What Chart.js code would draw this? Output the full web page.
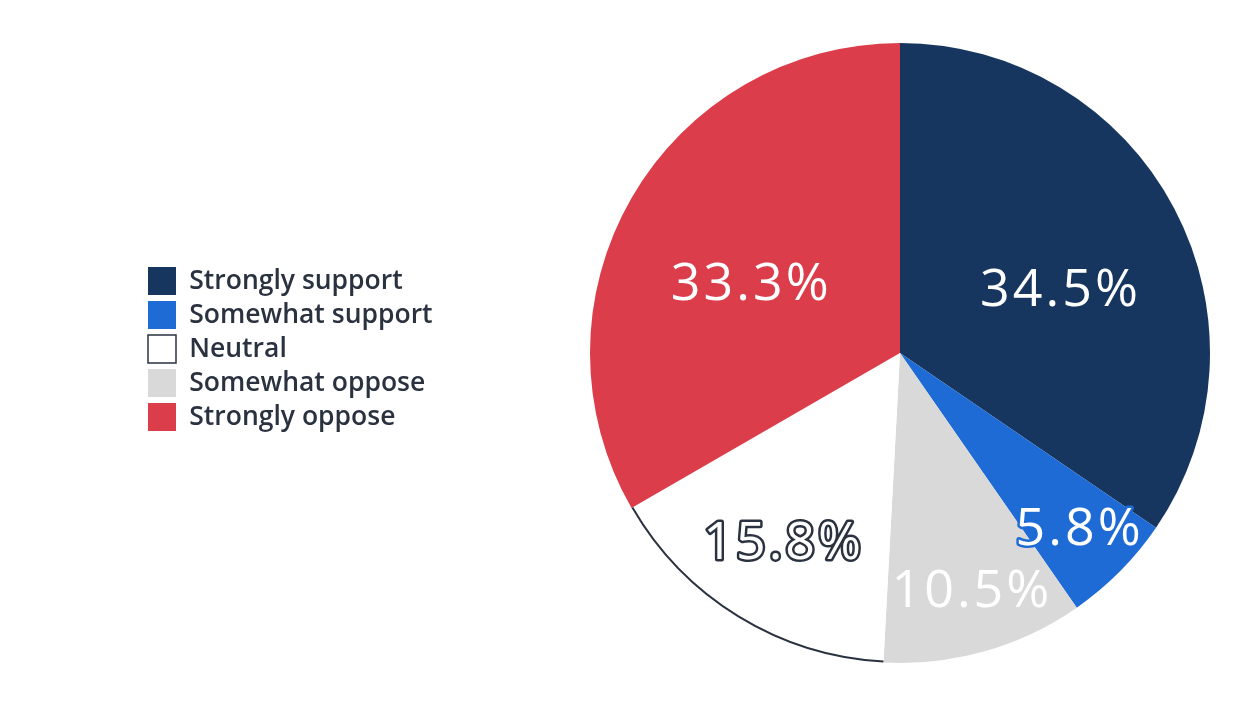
<!DOCTYPE html>
<html>
<head>
<meta charset="utf-8">
<script src="https://cdn.jsdelivr.net/npm/chart.js@4/dist/chart.umd.min.js"></script>
<style>
  html, body { margin: 0; padding: 0; background: #ffffff; overflow: hidden; }
  #wrap { width: 1260px; height: 709px; position: relative; }
</style>
</head>
<body>
<div id="wrap"><canvas id="c"></canvas></div>
<script>
// Slice order as drawn clockwise from 12 o'clock
const categories = ["Strongly support", "Somewhat support", "Somewhat oppose", "Neutral", "Strongly oppose"];
const values = [34.5, 5.8, 10.5, 15.8, 33.3];
const valueLabels = ["34.5%", "5.8%", "10.5%", "15.8%", "33.3%"];
// Order in which the legend lists the categories
const legendOrder = ["Strongly support", "Somewhat support", "Neutral", "Somewhat oppose", "Strongly oppose"];

// ---- styling ----
const colors = {
  "Strongly support": "#17365f",
  "Somewhat support": "#1f6bd5",
  "Neutral": "#ffffff",
  "Somewhat oppose": "#d9d9d9",
  "Strongly oppose": "#dc3d4b"
};
const outlineDark = "#2a3240";
const PIE_BOX = { left: 590, right: 1210, top: 43, bottom: 663 };
// label placement per slice: radius fraction and angular nudge (degrees)
const labelRadiusFrac = [0.561, 0.81, 0.797, 0.706, 0.531];
const labelAngleNudge = [5.6, -1.1, -1.9, -0.5, -4.2];

const fixPiePlugin = {
  id: 'fixPie',
  afterLayout(chart) {
    const ca = chart.chartArea;
    ca.left = PIE_BOX.left; ca.right = PIE_BOX.right;
    ca.top = PIE_BOX.top; ca.bottom = PIE_BOX.bottom;
    ca.width = ca.right - ca.left; ca.height = ca.bottom - ca.top;
  }
};

const neutralRimPlugin = {
  id: 'neutralRim',
  afterDatasetsDraw(chart) {
    const meta = chart.getDatasetMeta(0);
    const ctx = chart.ctx;
    meta.data.forEach((arc, i) => {
      if (categories[i] !== "Neutral") return;
      const p = arc.getProps(['x', 'y', 'startAngle', 'endAngle', 'outerRadius'], true);
      ctx.save();
      ctx.beginPath();
      ctx.arc(p.x, p.y, p.outerRadius - 1, p.startAngle, p.endAngle);
      ctx.strokeStyle = outlineDark;
      ctx.lineWidth = 2;
      ctx.stroke();
      ctx.restore();
    });
  }
};

const valueLabelPlugin = {
  id: 'valueLabels',
  afterDatasetsDraw(chart) {
    const meta = chart.getDatasetMeta(0);
    const ctx = chart.ctx;
    meta.data.forEach((arc, i) => {
      const p = arc.getProps(['x', 'y', 'startAngle', 'endAngle', 'outerRadius'], true);
      const ang = (p.startAngle + p.endAngle) / 2 + labelAngleNudge[i] * Math.PI / 180;
      const r = p.outerRadius * labelRadiusFrac[i];
      const cx = p.x + Math.cos(ang) * r;
      const cy = p.y + Math.sin(ang) * r;
      const fill = colors[categories[i]];
      const stroke = fill === "#ffffff" ? outlineDark : fill;
      ctx.save();
      ctx.font = '400 52px "Open Sans", sans-serif';
      if ('letterSpacing' in ctx) ctx.letterSpacing = '3px';
      ctx.textAlign = 'left';
      ctx.textBaseline = 'alphabetic';
      const m = ctx.measureText(valueLabels[i]);
      const w = m.actualBoundingBoxRight - m.actualBoundingBoxLeft;
      const x = cx - w / 2 + m.actualBoundingBoxLeft;
      const y = cy + (m.actualBoundingBoxAscent - m.actualBoundingBoxDescent) / 2;
      ctx.lineJoin = 'round';
      ctx.lineWidth = 5;
      ctx.strokeStyle = stroke;
      ctx.strokeText(valueLabels[i], x, y);
      ctx.fillStyle = '#ffffff';
      ctx.fillText(valueLabels[i], x, y);
      ctx.restore();
    });
  }
};

new Chart(document.getElementById('c'), {
  type: 'pie',
  data: {
    labels: categories,
    datasets: [{
      data: values,
      backgroundColor: categories.map(c => colors[c]),
      borderWidth: 0
    }]
  },
  options: {
    responsive: true,
    maintainAspectRatio: false,
    animation: false,
    layout: { padding: { left: 142, top: 39, bottom: 50, right: 50 } },
    plugins: {
      tooltip: { enabled: false },
      legend: {
        position: 'left',
        align: 'center',
        labels: {
          boxWidth: 28,
          boxHeight: 28,
          padding: 6,
          color: '#2a3240',
          font: { family: '"Open Sans", sans-serif', size: 26.5, weight: '600' },
          sort: (a, b) => legendOrder.indexOf(a.text) - legendOrder.indexOf(b.text),
          generateLabels: (chart) => categories.map((c, i) => ({
            text: c,
            fillStyle: colors[c],
            strokeStyle: c === "Neutral" ? outlineDark : colors[c],
            lineWidth: c === "Neutral" ? 1.5 : 0,
            fontColor: '#2a3240',
            hidden: false,
            index: i
          }))
        }
      }
    }
  },
  plugins: [fixPiePlugin, neutralRimPlugin, valueLabelPlugin]
});
</script>
</body>
</html>
